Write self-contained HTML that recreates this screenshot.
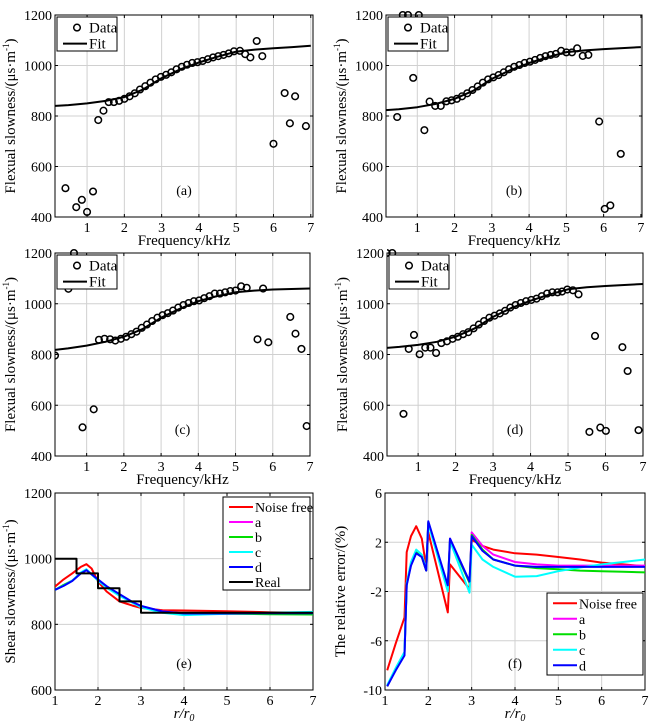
<!DOCTYPE html>
<html><head><meta charset="utf-8"><style>
html,body{margin:0;padding:0;background:#fff;}
svg{display:block;font-family:"Liberation Serif",serif;}
</style></head><body>
<svg id="fig" width="658" height="723" viewBox="0 0 658 723" xmlns="http://www.w3.org/2000/svg"></svg>
<script>
// ---- Panel (a) ----
const aDataX=[0.42,0.71,0.86,1.0,1.16,1.3,1.44,1.58,1.72,1.86,2.0,2.14,2.28,2.42,2.56,2.7,2.84,2.98,3.12,3.26,3.4,3.54,3.68,3.82,3.96,4.1,4.24,4.38,4.52,4.66,4.8,4.94,5.1,5.24,5.38,5.55,5.7,6.0,6.3,6.44,6.58,6.87];
const aDataY=[514,439,468,420,501,784,821,855,855,860,868,878,890,905,918,932,945,955,963,973,985,995,1003,1010,1013,1018,1025,1032,1037,1042,1048,1056,1058,1045,1032,1097,1037,690,891,771,878,760];
const aFitY=[840,843,850,860,875,905,950,985,1012,1035,1055,1063,1068,1073,1078];
// ---- Panel (b) ----
const bDataX=[0.46,0.61,0.75,0.89,1.04,1.19,1.33,1.48,1.63,1.78,1.92,2.06,2.2,2.34,2.48,2.62,2.76,2.9,3.04,3.18,3.32,3.46,3.6,3.74,3.88,4.02,4.16,4.3,4.44,4.58,4.72,4.86,5.0,5.15,5.29,5.44,5.59,5.88,6.03,6.18,6.46];
const bDataY=[796,1200,1200,951,1200,744,857,840,840,858,862,868,878,890,903,917,932,945,953,962,973,985,995,1002,1010,1015,1022,1030,1037,1042,1046,1058,1052,1052,1068,1038,1042,778,432,446,650];
const bFitY=[823,827,835,848,868,900,947,982,1010,1033,1053,1060,1065,1069,1073];
// ---- Panel (c) ----
const cDataX=[0.15,0.51,0.66,0.89,1.19,1.33,1.48,1.63,1.77,1.92,2.06,2.2,2.34,2.48,2.62,2.76,2.9,3.04,3.18,3.32,3.46,3.6,3.74,3.88,4.02,4.16,4.3,4.44,4.58,4.72,4.86,5.0,5.15,5.3,5.59,5.74,5.88,6.47,6.61,6.77,6.91];
const cDataY=[796,1059,1200,513,584,858,862,860,855,862,870,880,890,905,918,932,945,955,963,973,985,995,1003,1010,1013,1022,1030,1040,1040,1045,1050,1052,1069,1063,860,1060,848,948,882,822,518];
const cFitY=[818,824,835,850,870,900,945,980,1010,1030,1045,1052,1056,1058,1060];
// ---- Panel (d) ----
const dDataX=[0.16,0.31,0.61,0.75,0.89,1.04,1.19,1.33,1.48,1.62,1.77,1.92,2.06,2.2,2.34,2.48,2.62,2.76,2.9,3.04,3.18,3.32,3.46,3.6,3.74,3.88,4.02,4.16,4.3,4.44,4.58,4.72,4.84,4.98,5.13,5.28,5.57,5.72,5.86,6.01,6.45,6.59,6.88];
const dDataY=[1200,1200,566,822,877,801,827,827,806,845,852,862,870,880,888,903,918,932,945,953,962,972,985,995,1003,1010,1015,1020,1030,1040,1045,1045,1048,1056,1053,1037,495,873,512,499,829,735,502];
const dFitY=[826,830,838,850,870,902,948,984,1012,1036,1057,1065,1070,1074,1078];
const fitX=[0.15,0.5,1,1.5,2,2.5,3,3.5,4,4.5,5,5.5,6,6.5,7];
// ---- Panel (e) ----
const eX=[1,1.2,1.4,1.6,1.73,1.85,2.0,2.2,2.5,2.8,3.0,3.5,4,5,6,7];
const eNoise=[915,937,955,975,983,970,930,900,870,857,850,843,842,840,837,835];
const eA=[905,918,933,955,966,952,935,915,890,868,855,840,834,834,834,833];
const eB=[905,920,933,955,966,952,935,915,890,868,855,838,833,832,831,830];
const eC=[905,918,933,958,968,952,933,912,887,866,852,835,828,832,835,838];
const eD=[905,917,932,955,965,952,937,916,892,868,856,839,833,833,834,834];
const eRealX=[1,1.5,1.5,2,2,2.5,2.5,3,3,7];
const eRealY=[1000,1000,955,955,910,910,870,870,835,835];
// ---- Panel (f) ----
const fX=[1.05,1.25,1.45,1.5,1.6,1.72,1.85,1.95,2.0,2.45,2.5,2.95,3.0,3.25,3.5,4,4.5,5,5.5,6,6.5,7];
const fNoise=[-8.4,-6.2,-4.1,1.2,2.5,3.3,2.3,0.0,2.8,-3.7,0.2,-1.8,2.2,1.7,1.4,1.1,1.0,0.8,0.6,0.35,0.2,0.05];
const fA=[-9.7,-8.3,-7.0,-1.4,0.2,1.2,0.8,-0.3,3.6,-1.6,2.3,-1.2,2.8,1.7,1.0,0.4,0.2,0.1,0.1,0.1,0.1,0.1];
const fB=[-9.7,-8.3,-7.0,-1.4,0.2,1.2,0.8,-0.3,3.6,-1.6,2.2,-1.3,2.6,1.4,0.6,0.1,-0.1,-0.2,-0.3,-0.35,-0.4,-0.45];
const fC=[-9.6,-8.2,-6.9,-1.3,0.4,1.4,1.0,-0.2,3.5,-2.0,2.1,-2.1,1.8,0.6,0.0,-0.8,-0.75,-0.35,-0.05,0.2,0.4,0.6];
const fD=[-9.7,-8.4,-7.2,-1.5,0.1,1.1,0.8,-0.3,3.7,-1.5,2.3,-1.2,2.5,1.3,0.6,0.1,0.0,0.0,0.0,0.0,0.0,0.0];
const xTicks=[1,2,3,4,5,6,7];
const flexTicks=[400,600,800,1000,1200];
const shearTicks=[600,800,1000,1200];
const errTicks=[-10,-6,-2,2,6];
const errTickLabels=["-10","-6","-2","2","6"];

const NS="http://www.w3.org/2000/svg";
const svg=document.getElementById('fig');
function mk(tag,attrs,parent){const e=document.createElementNS(NS,tag);for(const k in attrs)e.setAttribute(k,attrs[k]);(parent||svg).appendChild(e);return e;}

function panel(p){
  const g=mk('g',{});
  
  
  const sx=v=>p.x0+(v-p.xd[0])/(p.xd[1]-p.xd[0])*(p.x1-p.x0);
  const sy=v=>p.y1-(v-p.yd[0])/(p.yd[1]-p.yd[0])*(p.y1-p.y0);
  const cid='clip'+p.id;
  const cp=mk('clipPath',{id:cid},g);mk('rect',{x:p.x0,y:p.y0-6,width:p.x1-p.x0,height:p.y1-p.y0+6},cp);
  xTicks.forEach(t=>{const x=sx(t);
    const l=mk('line',{x1:x,x2:x,y1:p.y0,y2:p.y1,stroke:'#d0d0d0','stroke-width':1},g);
    
    mk('line',{x1:x,x2:x,y1:p.y1,y2:p.y1-3,stroke:'#000'},g);mk('line',{x1:x,x2:x,y1:p.y0,y2:p.y0+3,stroke:'#000'},g);
    const tx=mk('text',{x:x,y:p.y1+15,'font-size':14,'text-anchor':'middle'},g);tx.textContent=t;
    });
  p.yt.forEach((t,i)=>{const y=sy(t);
    const l=mk('line',{x1:p.x0,x2:p.x1,y1:y,y2:y,stroke:'#d0d0d0','stroke-width':1},g);
    
    mk('line',{x1:p.x0,x2:p.x0+3,y1:y,y2:y,stroke:'#000'},g);mk('line',{x1:p.x1,x2:p.x1-3,y1:y,y2:y,stroke:'#000'},g);
    const tx=mk('text',{x:p.x0-3,y:y+5,'font-size':14,'text-anchor':'end'},g);tx.textContent=p.ytl?p.ytl[i]:t;
    });
  const fr=mk('rect',{x:p.x0,y:p.y0,width:p.x1-p.x0,height:p.y1-p.y0,fill:'none',stroke:'#000','stroke-width':1},g);
  
  const pg=mk('g',{'clip-path':'url(#'+cid+')'},g);
  p.lines.forEach(s=>{
    const d=s.x.map((v,i)=>(i?'L':'M')+sx(v).toFixed(1)+' '+sy(s.y[i]).toFixed(1)).join(' ');
    const pa=mk('path',{d:d,fill:'none',stroke:s.c,'stroke-width':s.w||2,'stroke-linejoin':'round'},pg);
    
  });
  if(p.px){p.px.forEach((v,i)=>{
    const c=mk('circle',{cx:sx(v),cy:sy(p.py[i]),r:3.3,fill:'none',stroke:'#000','stroke-width':1.5},pg);
    });}
  const xl=mk('text',{x:(p.x0+p.x1)/2,y:p.y1+28,'font-size':15,'text-anchor':'middle','font-style':p.xit?'italic':'normal'},g);
  if(p.xit){xl.innerHTML='r/r<tspan font-size="10" dy="3">0</tspan>';}else xl.textContent='Frequency/kHz';
  
  const yx=p.x0-40,yy=(p.y0+p.y1)/2;
  const yl=mk('text',{x:yx,y:yy,'font-size':15,'text-anchor':'middle',transform:'rotate(-90 '+yx+' '+yy+')'},g);
  yl.innerHTML=p.ylab;
  
  const pl=mk('text',{x:(p.x0+p.x1)/2,y:p.y1-22,'font-size':14,'text-anchor':'middle'},g);pl.textContent='('+p.id+')';
  
  const L=p.leg;
  const lg=mk('g',{},g);
  
  mk('rect',{x:L.x,y:L.y,width:L.w,height:L.h,fill:'#fff',stroke:'#000'},lg);
  L.items.forEach((it,i)=>{
    const cy=L.y+L.dy*(i+0.6)+1;
    const e=mk('g',{},lg);
    
    if(it.marker){mk('circle',{cx:L.x+20,cy:cy,r:3.3,fill:'none',stroke:'#000','stroke-width':1.5},e);}
    else mk('line',{x1:L.x+6,x2:L.x+30,y1:cy,y2:cy,stroke:it.c,'stroke-width':2},e);
    const t=mk('text',{x:L.x+32,y:cy+5,'font-size':L.fs||15},e);t.textContent=it.t;
  });
}
const flexLab='Flexual slowness/(μs·m<tspan font-size="9" dy="-6">-1</tspan><tspan dy="6">)</tspan>';
const legFD=[{t:'Data',marker:true},{t:'Fit',c:'#000'}];
function flexPanel(id,x0,x1,y0,y1,xd,dx,dy,fy){
  panel({id,x0,x1,y0,y1,xd,yd:[400,1200],yt:flexTicks,ylab:flexLab,px:dx,py:dy,
    lines:[{x:fitX,y:fy,c:'#000',w:2,name:'fit-line'}],
    leg:{x:x0+2,y:y0+2,w:60,h:34,dy:16,items:legFD}});
}
flexPanel('a',55,313,15,217,[0.14,7.06],aDataX,aDataY,aFitY);
flexPanel('b',386,642,15,217,[0.16,7.03],bDataX,bDataY,bFitY);
flexPanel('c',55,310,253,456,[0.15,7.0],cDataX,cDataY,cFitY);
flexPanel('d',387,643,253,456,[0.17,7.0],dDataX,dDataY,dFitY);
panel({id:'e',x0:55,x1:313,y0:493,y1:690,xd:[1,7],yd:[600,1200],yt:shearTicks,xit:true,
  ylab:'Shear slowness/(μs·m<tspan font-size="9" dy="-6">-1</tspan><tspan dy="6">)</tspan>',
  lines:[{x:eX,y:eNoise,c:'#ff0000',name:'noise-free-line'},{x:eX,y:eA,c:'#ff00ff',name:'a-line'},
    {x:eX,y:eB,c:'#00dd00',name:'b-line'},{x:eX,y:eC,c:'#00ffff',name:'c-line'},{x:eX,y:eD,c:'#0000ff',name:'d-line'},
    {x:eRealX,y:eRealY,c:'#000',name:'real-line'}],
  leg:{x:223,y:497,w:87,h:93,dy:15,fs:14,items:[{t:'Noise free',c:'#ff0000'},{t:'a',c:'#ff00ff'},{t:'b',c:'#00dd00'},{t:'c',c:'#00ffff'},{t:'d',c:'#0000ff'},{t:'Real',c:'#000'}]}});
panel({id:'f',x0:385,x1:645,y0:493,y1:690,xd:[1,7],yd:[-10,6],yt:errTicks,ytl:errTickLabels,xit:true,
  ylab:'The relative error/(%)',
  lines:[{x:fX,y:fNoise,c:'#ff0000',name:'noise-free-line'},{x:fX,y:fA,c:'#ff00ff',name:'a-line'},
    {x:fX,y:fB,c:'#00dd00',name:'b-line'},{x:fX,y:fC,c:'#00ffff',name:'c-line'},{x:fX,y:fD,c:'#0000ff',name:'d-line'}],
  leg:{x:547,y:593,w:96,h:82,dy:15.5,fs:14,items:[{t:'Noise free',c:'#ff0000'},{t:'a',c:'#ff00ff'},{t:'b',c:'#00dd00'},{t:'c',c:'#00ffff'},{t:'d',c:'#0000ff'}]}});
</script>
</body></html>
